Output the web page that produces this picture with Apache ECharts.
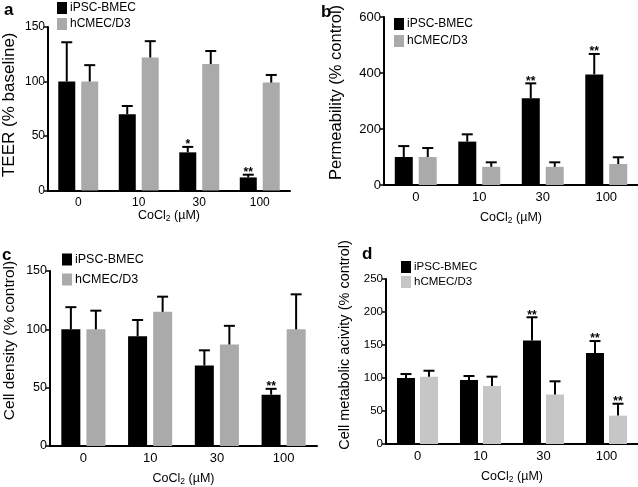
<!DOCTYPE html>
<html><head><meta charset="utf-8">
<script src="https://cdn.jsdelivr.net/npm/echarts@6/dist/echarts.min.js"></script>
<style>html,body{margin:0;padding:0;background:#fff}#c{width:638px;height:487px}</style>
</head><body><div id="c"></div>
<script>
// ---------- data ----------
const categories = ['0', '10', '30', '100'];
const nameIpsc = 'iPSC-BMEC';
const nameHcmec = 'hCMEC/D3';

// a: TEER (% baseline)
const teerIpsc = [100, 70, 35, 12];
const teerIpscSd = [36, 7.5, 5, 2.5];
const teerHcmec = [100, 122, 116, 99];
const teerHcmecSd = [15, 15, 12, 7];
const teerIpscSig = ['', '', '*', '**'];
const teerHcmecSig = ['', '', '', ''];

// b: Permeability (% control)
const permIpsc = [100, 155, 310, 395];
const permIpscSd = [39, 26, 53, 73];
const permHcmec = [100, 65, 65, 75];
const permHcmecSd = [32, 16, 16, 24];
const permIpscSig = ['', '', '**', '**'];
const permHcmecSig = ['', '', '', ''];

// c: Cell density (% control)
const densIpsc = [100, 94, 69, 44];
const densIpscSd = [19, 14, 13, 5];
const densHcmec = [100, 115, 87, 100];
const densHcmecSd = [16, 13, 16, 30];
const densIpscSig = ['', '', '', '**'];
const densHcmecSig = ['', '', '', ''];

// d: Cell metabolic acivity (% control)
const metaIpsc = [100, 97, 157, 138];
const metaIpscSd = [6, 6, 35, 18];
const metaHcmec = [102, 88, 75, 43];
const metaHcmecSd = [9, 14, 20, 18];
const metaIpscSig = ['', '', '**', '**'];
const metaHcmecSig = ['', '', '', '**'];

// axis ranges [max, interval]
const yRanges = [[150, 50], [600, 200], [150, 50], [250, 50]];
const yNames = ['TEER (% baseline)', 'Permeability (% control)', 'Cell density (% control)', 'Cell metabolic acivity (% control)'];
const xName = 'CoCl{s|2} (µM)';
const panelLetters = ['a', 'b', 'c', 'd'];

// ---------- layout / style ----------
const FONT = '"Liberation Sans", Arial, Helvetica, sans-serif';
const BLACK = '#000000';
const GRAY = '#aaaaaa';
const GRAY_D = '#c6c6c6';

const panels = [
  { ipsc: teerIpsc, ipscSd: teerIpscSd, hc: teerHcmec, hcSd: teerHcmecSd, ipscSig: teerIpscSig, hcSig: teerHcmecSig,
    grid: { left: 46, top: 27, width: 244, height: 163.5 }, barW: 17, gap: 6, gray: GRAY,
    yNameSize: 17, yNameGap: 30, yShift: 4, yLabelSize: 12, xLabelSize: 12, xNameGap: 18,
    legend: { left: 57, top: 2, gap: 4, size: 12 }, letter: { left: 4, top: 2 } },
  { ipsc: permIpsc, ipscSd: permIpscSd, hc: permHcmec, hcSd: permHcmecSd, ipscSig: permIpscSig, hcSig: permHcmecSig,
    grid: { left: 384, top: 17, width: 254, height: 168 }, barW: 18, gap: 6, gray: GRAY,
    yNameSize: 16.5, yNameGap: 39, yShift: 8.5, yLabelSize: 13, xLabelSize: 13, xNameGap: 25,
    legend: { left: 394, top: 18, gap: 5, size: 12 }, letter: { left: 321, top: 4 } },
  { ipsc: densIpsc, ipscSd: densIpscSd, hc: densHcmec, hcSd: densHcmecSd, ipscSig: densIpscSig, hcSig: densHcmecSig,
    grid: { left: 50, top: 271, width: 267, height: 176 }, barW: 19, gap: 6, gray: GRAY,
    yNameSize: 15.5, yNameGap: 32, yShift: 18, yLabelSize: 12.5, xLabelSize: 13, xNameGap: 25,
    legend: { left: 62, top: 253, gap: 7, size: 12.5 }, letter: { left: 2, top: 247 } },
  { ipsc: metaIpsc, ipscSd: metaIpscSd, hc: metaHcmec, hcSd: metaHcmecSd, ipscSig: metaIpscSig, hcSig: metaHcmecSig,
    grid: { left: 386, top: 279, width: 252, height: 165 }, barW: 18, gap: 5, gray: GRAY_D,
    yNameSize: 14.5, yNameGap: 34, yShift: 16.5, yLabelSize: 11.5, xLabelSize: 13, xNameGap: 25,
    legend: { left: 401, top: 261, gap: 3, size: 11.5 }, letter: { left: 362, top: 246 } }
];

function errSeries(k, means, sds, sigs, side, p) {
  return {
    type: 'custom', xAxisIndex: k, yAxisIndex: k, silent: true, z: 5,
    data: means.map((m, i) => [i, m, sds[i]]),
    encode: { x: 0, y: 1 },
    renderItem: function (params, api) {
      const i = api.value(0), m = api.value(1), s = api.value(2);
      const p0 = api.coord([i, m]);
      const p1 = api.coord([i, m + s]);
      const x = p0[0] + side * (p.barW + p.gap) / 2;
      const cap = 5.5;
      const ch = [
        { type: 'line', shape: { x1: x, y1: p0[1], x2: x, y2: p1[1] }, style: { stroke: BLACK, lineWidth: 2 } },
        { type: 'line', shape: { x1: x - cap, y1: p1[1], x2: x + cap, y2: p1[1] }, style: { stroke: BLACK, lineWidth: 2 } }
      ];
      if (sigs[i]) {
        ch.push({ type: 'text', x: x, y: p1[1] + 4,
          style: { text: sigs[i], align: 'center', verticalAlign: 'bottom', fill: BLACK,
                   font: 'bold 12px ' + FONT } });
      }
      return { type: 'group', children: ch };
    }
  };
}

const option = {
  animation: false,
  textStyle: { fontFamily: FONT, color: BLACK },
  title: panels.map((p, k) => ({ text: panelLetters[k], left: p.letter.left, top: p.letter.top, padding: 0,
    textStyle: { fontSize: 17, fontWeight: 'bold', color: BLACK, fontFamily: FONT } })),
  legend: panels.map((p, k) => ({
    orient: 'vertical', left: p.legend.left, top: p.legend.top, padding: 0,
    itemWidth: 10, itemHeight: 12, itemGap: p.legend.gap, icon: 'rect', selectedMode: false,
    textStyle: { fontSize: p.legend.size, color: BLACK, fontFamily: FONT, padding: [0, 0, 0, -2] },
    data: [{ name: nameIpsc, itemStyle: { color: BLACK } }, { name: nameHcmec, itemStyle: { color: p.gray } }]
  })),
  grid: panels.map(p => Object.assign({ containLabel: false }, p.grid)),
  xAxis: panels.map((p, k) => ({
    type: 'category', gridIndex: k, data: categories,
    axisLine: { lineStyle: { color: BLACK, width: 2 } },
    axisTick: { show: false },
    axisLabel: { color: BLACK, fontSize: p.xLabelSize, margin: 6, fontFamily: FONT },
    name: xName, nameLocation: 'middle', nameGap: p.xNameGap,
    nameTextStyle: { color: BLACK, fontSize: 12.5, fontFamily: FONT,
      rich: { s: { fontSize: 8.5, padding: [6, 0, 0, 0], color: BLACK, fontFamily: FONT } } }
  })),
  yAxis: panels.map((p, k) => ({
    type: 'value', gridIndex: k, min: 0, max: yRanges[k][0], interval: yRanges[k][1],
    axisLine: { show: true, lineStyle: { color: BLACK, width: 2 } },
    axisTick: { show: true, length: 4, lineStyle: { color: BLACK, width: 1.5 } },
    splitLine: { show: false },
    axisLabel: { color: BLACK, fontSize: p.yLabelSize, margin: 3, fontFamily: FONT },
    name: yNames[k], nameLocation: 'middle', nameGap: p.yNameGap,
    nameTextStyle: { color: BLACK, fontSize: p.yNameSize, fontFamily: FONT, padding: [0, 0, 0, 2 * p.yShift] }
  })),
  series: []
};

panels.forEach((p, k) => {
  const gapPct = Math.round(p.gap / p.barW * 100) + '%';
  option.series.push({ type: 'bar', name: nameIpsc, xAxisIndex: k, yAxisIndex: k, data: p.ipsc,
    barWidth: p.barW, barGap: gapPct, itemStyle: { color: BLACK }, silent: true });
  option.series.push({ type: 'bar', name: nameHcmec, xAxisIndex: k, yAxisIndex: k, data: p.hc,
    barWidth: p.barW, barGap: gapPct, itemStyle: { color: p.gray }, silent: true });
  option.series.push(errSeries(k, p.ipsc, p.ipscSd, p.ipscSig, -1, p));
  option.series.push(errSeries(k, p.hc, p.hcSd, p.hcSig, 1, p));
});

const chart = echarts.init(document.getElementById('c'), null, { renderer: 'canvas' });
chart.setOption(option);
</script>
</body></html>
